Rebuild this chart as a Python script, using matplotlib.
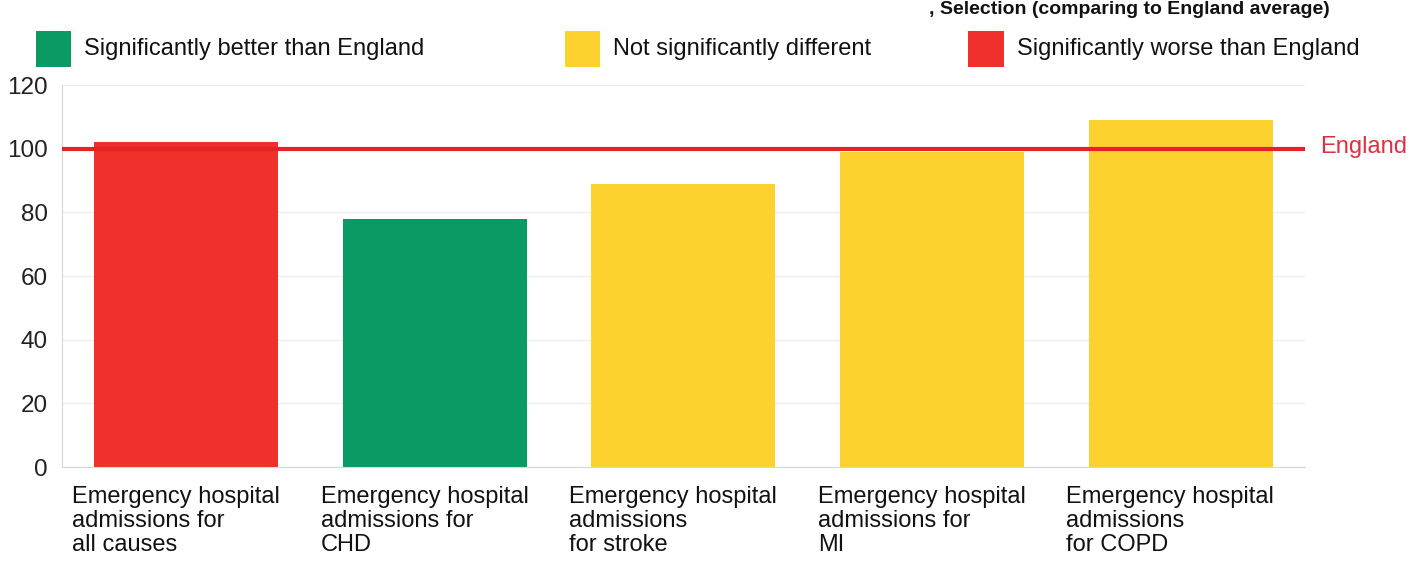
import matplotlib.pyplot as plt
from matplotlib.patches import Rectangle

categories = [
    "Emergency hospital\nadmissions for\nall causes",
    "Emergency hospital\nadmissions for\nCHD",
    "Emergency hospital\nadmissions\nfor stroke",
    "Emergency hospital\nadmissions for\nMI",
    "Emergency hospital\nadmissions\nfor COPD",
]
values = [102, 78, 89, 99, 109]
status = ["worse", "better", "similar", "similar", "similar"]
england = 100
yticks = [0, 20, 40, 60, 80, 100, 120]

colours = {"better": "#0a9a63", "similar": "#fdd22e", "worse": "#f0302a"}
legend_labels = [
    ("better", "Significantly better than England"),
    ("similar", "Not significantly different"),
    ("worse", "Significantly worse than England"),
]

plt.rcParams['font.family'] = ['Liberation Sans', 'DejaVu Sans']

fig = plt.figure(figsize=(14.22, 5.85), dpi=100)
ax = fig.add_axes([0.0436, 0.2017, 0.874, 0.653])

x = range(len(values))
ax.bar(x, values, width=0.74, color=[colours[s] for s in status], zorder=2)
ax.axhline(england, color="#e8202a", lw=3, zorder=3)

ax.set_xlim(-0.5, len(values) - 0.5)
ax.set_ylim(0, 120)
ax.set_yticks(yticks)
ax.tick_params(axis="y", labelsize=17.5, length=0, pad=10, colors="#222222")
ax.set_xticks([])
ax.yaxis.grid(True, color="#eeeeee", lw=1)
ax.set_axisbelow(True)
for side in ["top", "right"]:
    ax.spines[side].set_visible(False)
for side in ["left", "bottom"]:
    ax.spines[side].set_color("#d8d8d8")

# category labels, left aligned under each slot
for i, lab in enumerate(categories):
    ax.text(i - 0.46, -6, lab, ha="left", va="top", fontsize=17,
            color="#111111", linespacing=1.1)

ax.text(1.012, (england + 0.5) / 120, "England", transform=ax.transAxes,
        color="#e03040", fontsize=17, va="center", ha="left")

# legend squares across the top
legend_x = [0.025, 0.397, 0.681]
for (key, text), lx in zip(legend_labels, legend_x):
    fig.patches.append(Rectangle((lx, 0.885), 0.025, 0.062, transform=fig.transFigure,
                                 facecolor=colours[key], edgecolor="none"))
    fig.text(lx + 0.034, 0.917, text, fontsize=17, va="center", color="#111111")

# title (only its tail shows in the scan)
fig.text(0.935, 0.998, ", Selection (comparing to England average)", ha="right",
         va="top", fontsize=14, fontweight="bold", color="#111111")

fig.savefig("out.png", dpi=100)
